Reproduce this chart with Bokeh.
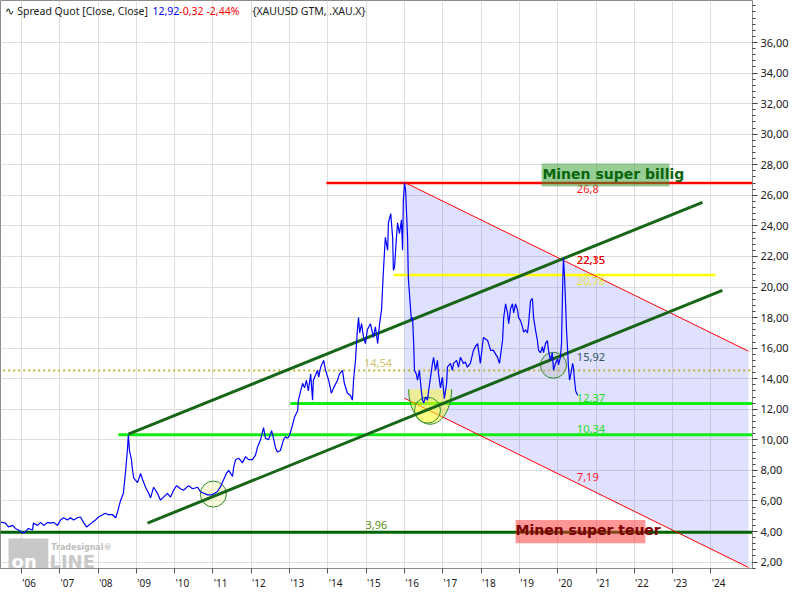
import numpy as np
from bokeh.plotting import figure
from bokeh.models import Range1d, FixedTicker, Label
from bokeh.core.properties import value
from bokeh.embed import file_html
from bokeh.resources import INLINE

# ---------------- data ----------------
dates = [2005.46, 2005.50, 2005.58, 2005.66, 2005.77, 2005.84, 2005.92,
         2006.03, 2006.10, 2006.18, 2006.29, 2006.31, 2006.42, 2006.50, 2006.58, 2006.68, 2006.76, 2006.84, 2006.94,
         2007.02, 2007.10, 2007.20, 2007.28, 2007.36, 2007.46, 2007.54, 2007.62, 2007.70, 2007.75, 2007.85, 2007.93,
         2008.01, 2008.12, 2008.19, 2008.27, 2008.38, 2008.46,
         2008.51, 2008.53, 2008.59, 2008.66, 2008.72, 2008.77, 2008.79, 2008.82, 2008.87, 2008.90, 2008.93,
         2009.03, 2009.11, 2009.16, 2009.24, 2009.32, 2009.37, 2009.45, 2009.55, 2009.63, 2009.71, 2009.81, 2009.89, 2009.97,
         2010.05, 2010.15, 2010.23, 2010.36, 2010.47, 2010.60, 2010.67, 2010.86, 2010.98,
         2011.11, 2011.19, 2011.28, 2011.35, 2011.41, 2011.51, 2011.54, 2011.59, 2011.67, 2011.77, 2011.85, 2011.93,
         2012.03, 2012.11, 2012.16, 2012.24, 2012.32, 2012.37, 2012.45, 2012.53, 2012.58, 2012.63, 2012.68, 2012.76, 2012.84, 2012.89, 2012.95,
         2013.00, 2013.08, 2013.13, 2013.21, 2013.23, 2013.29, 2013.34, 2013.39, 2013.44, 2013.49, 2013.55, 2013.60, 2013.62, 2013.73, 2013.76, 2013.81, 2013.89, 2013.94,
         2014.02, 2014.09, 2014.15, 2014.25, 2014.30, 2014.38, 2014.43, 2014.51, 2014.59, 2014.64, 2014.67, 2014.72, 2014.77, 2014.80, 2014.83, 2014.88, 2014.93, 2014.98,
         2015.03, 2015.11, 2015.19, 2015.24, 2015.30, 2015.35, 2015.40, 2015.45, 2015.50, 2015.56, 2015.58, 2015.64, 2015.69, 2015.71, 2015.74, 2015.79, 2015.82, 2015.87, 2015.92, 2015.95, 2015.97,
         2016.00, 2016.03, 2016.08, 2016.10, 2016.16, 2016.18, 2016.21, 2016.24, 2016.26, 2016.31, 2016.34, 2016.39, 2016.44, 2016.47, 2016.50, 2016.55, 2016.60, 2016.63, 2016.68, 2016.73, 2016.76, 2016.81, 2016.86, 2016.89, 2016.94, 2016.99,
         2017.04, 2017.10, 2017.12, 2017.20, 2017.25, 2017.28, 2017.36, 2017.41, 2017.46, 2017.54, 2017.59, 2017.64, 2017.72, 2017.80, 2017.85, 2017.91, 2017.98,
         2018.06, 2018.17, 2018.25, 2018.32, 2018.43, 2018.48, 2018.56, 2018.59, 2018.64, 2018.69, 2018.72, 2018.77, 2018.82, 2018.85, 2018.90, 2018.95, 2018.98,
         2019.03, 2019.08, 2019.11, 2019.16, 2019.21, 2019.24, 2019.29, 2019.34, 2019.37, 2019.42, 2019.47, 2019.50, 2019.55, 2019.60, 2019.63, 2019.68, 2019.73, 2019.76, 2019.81, 2019.86, 2019.89, 2019.94,
         2020.00, 2020.02, 2020.07, 2020.10, 2020.13, 2020.15, 2020.18, 2020.20, 2020.23, 2020.26, 2020.28, 2020.31, 2020.36, 2020.39, 2020.41, 2020.44, 2020.47, 2020.52]

spread = [4.6, 4.6, 4.55, 4.3, 4.4, 4.2, 4.1,
          3.9, 3.96, 4.2, 4.1, 4.55, 4.4, 4.6, 4.4, 4.6, 4.55, 4.6, 4.4,
          4.75, 4.9, 4.75, 4.9, 4.75, 4.9, 4.95, 4.6, 4.3, 4.4, 4.6, 4.75,
          4.95, 5.1, 5.2, 5.1, 5.1, 4.9,
          5.3, 5.5, 6.05, 6.5, 8.0, 9.5, 10.3, 9.3, 8.7, 8.0, 7.5,
          7.2, 7.8, 7.4, 6.9, 6.5, 6.2, 6.9, 6.5, 6.05, 6.25, 6.5, 6.25, 6.7,
          7.0, 6.8, 6.7, 7.0, 6.8, 6.9, 6.6, 6.4, 6.4,
          6.6, 6.9, 7.4, 7.8, 8.0, 7.6, 8.2, 8.7, 8.8, 8.5, 8.9, 8.7,
          8.7, 9.0, 9.5, 10.0, 10.8, 10.1, 10.0, 10.6, 10.1, 9.5, 9.2, 9.3, 10.0, 10.2, 10.1,
          10.3, 11.0, 11.5, 11.9, 12.6, 13.2, 13.7, 13.4, 13.9, 13.2, 14.3, 12.6, 13.9, 14.55, 14.1, 14.75, 15.2, 14.55,
          13.9, 13.05, 13.4, 13.9, 14.3, 14.55, 13.7, 13.05, 12.9, 12.6, 13.9, 15.2, 17.2, 18.0, 17.0, 17.6, 16.7, 16.3,
          17.2, 17.6, 16.7, 17.4, 16.3, 17.6, 18.5, 21.1, 23.25, 22.4, 24.2, 24.8, 23.25, 21.1, 21.3, 23.25, 24.2, 23.5, 24.4, 22.4, 25.7,
          26.8, 26.3, 23.25, 20.6, 18.5, 17.8, 18.0, 16.3, 14.55, 14.3, 13.9, 14.55, 13.2, 12.6, 12.4, 12.8, 12.6, 13.2, 14.1, 15.0, 15.4, 14.55, 15.2, 14.3, 13.4, 14.1,
          12.7, 13.7, 14.75, 15.0, 14.55, 15.0, 15.2, 14.75, 15.4, 15.0, 15.1, 14.75, 15.0, 15.85, 16.1, 16.3, 15.0,
          16.7, 16.5, 15.85, 15.85, 15.4, 15.0, 16.5, 18.0, 18.9, 18.3, 17.6, 18.6, 18.9, 18.3, 18.9, 18.5, 18.0,
          17.8, 17.4, 17.05, 17.2, 17.0, 17.6, 19.1, 19.25, 18.0, 17.2, 16.5, 15.85, 15.7, 16.1, 15.7, 16.3, 16.5, 15.85, 15.2, 15.7, 14.55, 15.0,
          15.3, 14.9, 15.4, 16.3, 20.2, 21.9, 20.6, 19.3, 17.2, 15.85, 14.75, 13.9, 14.55, 15.0, 14.75, 13.9, 13.2, 12.92]

# horizontal levels
level_values = [3.96, 10.34, 12.37, 14.54, 20.78, 26.8]
level_start = [2005.0, 2008.53, 2013.02, 2005.0, 2015.71, 2013.96]
level_end = [2026.0, 2026.0, 2026.0, 2026.0, 2024.12, 2026.0]

# rising channel (two parallel trend lines)
channel_x0 = [2008.79, 2009.29]
channel_y0 = [10.37, 4.55]
channel_x1 = [2023.78, 2024.30]
channel_y1 = [25.54, 19.78]

# falling channel (two parallel red lines)
fan_x0 = [2016.0, 2016.0]
fan_y0 = [26.85, 12.72]
fan_x1 = [2024.98, 2024.98]
fan_y1 = [15.8, 1.65]

# circle marks
circle_x = [2011.01, 2016.60, 2019.89]
circle_y = [6.45, 11.94, 14.88]

# bowl mark (lower half ellipse)
bowl_center = 2016.67
bowl_top = 13.31

# value labels
label_texts = ["26,8", "22,35", "22,15", "20,78", "15,92", "12,37", "10,34", "7,19"]
label_y = [26.39, 21.75, 21.75, 20.37, 15.44, 12.76, 10.73, 7.59]

year_ticks = [2006, 2007, 2008, 2009, 2010, 2011, 2012, 2013, 2014, 2015,
              2016, 2017, 2018, 2019, 2020, 2021, 2022, 2023, 2024]
year_labels = ["'06", "'07", "'08", "'09", "'10", "'11", "'12", "'13", "'14", "'15",
               "'16", "'17", "'18", "'19", "'20", "'21", "'22", "'23", "'24"]
value_ticks = [2, 4, 6, 8, 10, 12, 14, 16, 18, 20, 22, 24, 26, 28, 30, 32, 34, 36]
value_labels = ["2,00", "4,00", "6,00", "8,00", "10,00", "12,00", "14,00", "16,00", "18,00",
                "20,00", "22,00", "24,00", "26,00", "28,00", "30,00", "32,00", "34,00", "36,00"]

# ---------------- figure ----------------
FONT = "Noto Sans"
p = figure(width=792, height=592, output_backend="svg", toolbar_location=None,
           x_range=Range1d(2005.452, 2025.086), y_range=Range1d(1.58, 38.75),
           y_axis_location="right",
           min_border_left=0, min_border_top=0, min_border_right=40, min_border_bottom=20)
p.background_fill_color = "white"
p.border_fill_color = "white"
p.outline_line_color = "#8c8c8c"

# grid
p.xgrid.ticker = FixedTicker(ticks=year_ticks)
p.ygrid.ticker = FixedTicker(ticks=value_ticks)
p.grid.grid_line_color = "#dedede"
p.grid.grid_line_width = 1

# x axis: labels sit just right of each year tick
label_pos = [t + 0.2 for t in year_ticks]
p.xaxis.ticker = FixedTicker(ticks=label_pos, minor_ticks=year_ticks)
p.xaxis.major_label_overrides = {t: l for t, l in zip(label_pos, year_labels)}
p.xaxis.major_tick_line_color = None
p.xaxis.major_tick_out = 4
p.xaxis.major_tick_in = 0
p.xaxis.minor_tick_out = 5
p.xaxis.minor_tick_in = 0
p.xaxis.minor_tick_line_color = "#505050"
p.xaxis.axis_line_color = "#8c8c8c"
p.xaxis.major_label_text_font = FONT
p.xaxis.major_label_text_font_size = "10px"
p.xaxis.major_label_text_color = "#202020"
p.xaxis.major_label_standoff = 2

# y axis on the right
minor_y = [round(v, 2) for v in np.arange(1.6, 38.8, 0.4)]
p.yaxis.ticker = FixedTicker(ticks=value_ticks, minor_ticks=minor_y)
p.yaxis.major_label_overrides = {t: l for t, l in zip(value_ticks, value_labels)}
p.yaxis.major_tick_out = 5
p.yaxis.major_tick_in = 0
p.yaxis.minor_tick_out = 3
p.yaxis.minor_tick_in = 0
p.yaxis.major_tick_line_color = "#404040"
p.yaxis.minor_tick_line_color = "#404040"
p.yaxis.axis_line_color = "#8c8c8c"
p.yaxis.major_label_text_font = FONT
p.yaxis.major_label_text_font_size = "11px"
p.yaxis.major_label_text_color = "#202020"
p.yaxis.major_label_standoff = 3

# shaded falling channel
p.patch([fan_x0[0], fan_x1[0], fan_x1[1], fan_x0[1]],
        [fan_y0[0], fan_y1[0], fan_y1[1], fan_y0[1]],
        fill_color="#0000ff", fill_alpha=0.12, line_color=None)

# horizontal levels
level_colors = ["#006400", "#11ee11", "#11ee11", "#bdb43a", "#ffff00", "#ff0000"]
level_widths = [3, 3, 3, 2, 2.5, 2.5]
level_dash = ["solid", "solid", "solid", "2 3", "solid", "solid"]
for v, x0, x1, c, w, d in zip(level_values, level_start, level_end, level_colors, level_widths, level_dash):
    p.line([x0, x1], [v, v], line_color=c, line_width=w, line_dash=d)

# red falling lines
p.segment(fan_x0, fan_y0, fan_x1, fan_y1, line_color="#ff0000", line_width=1)

# bowl
theta = np.linspace(np.pi, 2 * np.pi, 40)
bx = bowl_center + 0.561 * np.cos(theta)
by = bowl_top + 2.29 * np.sin(theta)
p.patch(list(bx), list(by), fill_color="#ffff00", fill_alpha=0.4, line_color=None)
p.line(list(bx), list(by), line_color="#2e8b2e", line_width=1)

# circles
p.ellipse(circle_x, circle_y, width=0.68, height=1.7,
          fill_color=["#eded9a", "#ffff40", "#b8b8b8"], fill_alpha=[0.35, 0.25, 0.35],
          line_color="#2e8b2e", line_width=1)

# rising channel
p.segment(channel_x0, channel_y0, channel_x1, channel_y1, line_color="#176617", line_width=3)

# price line
p.line(dates, spread, line_color="#0000ff", line_width=1.2)

# value labels
label_colors = ["#ff1a1a", "#ff1a1a", "#e00000", "#e6e63a", "#2f5a5a", "#22dd22", "#22dd22", "#ff1a1a"]
p.text(x=[2020.50] * len(label_texts), y=label_y, text=label_texts, text_color=label_colors,
       text_font=value(FONT), text_font_size="11px", text_baseline="middle", text_align="left")
p.text(x=[2014.98, 2014.94], y=[4.45, 15.04], text=["3,96", "14,54"], text_color=["#5f8f1f", "#cfc46a"],
       text_font=value(FONT), text_font_size="11px", text_baseline="middle", text_align="left")

# text boxes
p.quad(left=[2019.58, 2018.90], right=[2022.92, 2022.29], bottom=[26.58, 3.24], top=[28.09, 4.75],
       fill_color=["#2e9e2e", "#ff3030"], fill_alpha=[0.5, 0.5], line_color=None)
p.text(x=[2019.60], y=[27.37], text=["Minen super billig"], text_color="#0a640a",
       text_font=value("DejaVu Sans"), text_font_style="bold", text_font_size="14px",
       text_baseline="alphabetic", text_align="left")
p.text(x=[2018.90], y=[4.09], text=["Minen super teuer"], text_color="#7a0000",
       text_font=value("DejaVu Sans"), text_font_style="bold", text_font_size="14px",
       text_baseline="alphabetic", text_align="left")

# watermark
p.quad(left=[2005.66], right=[2006.70], bottom=[1.62], top=[3.55], fill_color="#c8c8c8",
       line_color=None)
p.text(x=[2005.74], y=[2.02], text=["on"], text_color="white", text_font=value("DejaVu Sans"),
       text_font_style="bold", text_font_size="18px", text_baseline="alphabetic")
p.text(x=[2006.73], y=[2.02], text=["LINE"], text_color="#c8c8c8", text_font=value("DejaVu Sans"),
       text_font_style="bold", text_font_size="18px", text_baseline="alphabetic")
p.text(x=[2006.78], y=[2.95], text=["Tradesignal®"], text_color="#bdbdbd", text_font=value("DejaVu Sans"),
       text_font_style="bold", text_font_size="8px", text_baseline="alphabetic")

# title row
title_parts = [("\u223f", "#202020", 2005.56), ("Spread Quot [Close, Close]", "#202020", 2005.89),
               ("12,92", "#0000ff", 2009.42), ("-0,32", "#ff0000", 2010.12), ("-2,44%", "#ff0000", 2010.83),
               ("{XAUUSD GTM, .XAU.X}", "#202020", 2012.03)]
for t, c, x in title_parts:
    p.add_layout(Label(x=x, y=38.09, text=t, text_color=c, text_font=FONT, text_font_size="10.5px",
                       text_baseline="middle", text_align="left"))

p.add_layout(Label(x=2025.22, y=38.05, text="SPQ", text_color="#303030", text_font=FONT,
                   text_font_size="11px", text_baseline="middle", text_align="left"))

open("out.html", "w").write(file_html(p, INLINE))
